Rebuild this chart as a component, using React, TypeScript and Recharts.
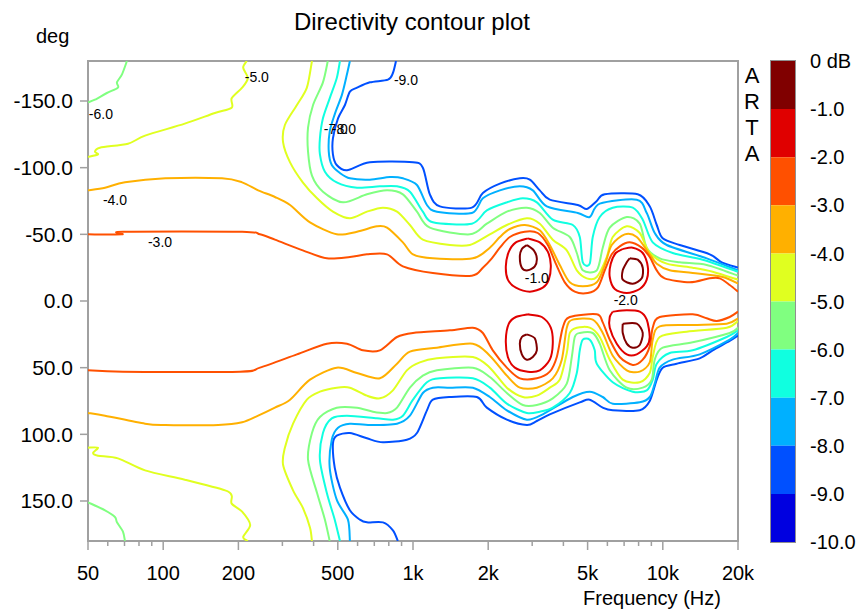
import React from "react";
import { LineChart, Line, XAxis, YAxis, ReferenceArea, ReferenceDot, BarChart, Bar } from "recharts";

type Pt = [number, number]; // [frequency Hz, angle deg]

// colour bar bands, 0..-1 dB first
const BAND_COLORS = ["#800000", "#e00000", "#ff5000", "#ffb000", "#e0ff20", "#80ff80", "#10ffe0", "#00b0ff", "#0050ff", "#0000e0"];
const DB_TICKS = [0, -1, -2, -3, -4, -5, -6, -7, -8, -9, -10];

const FREQ_TICKS = [50, 60, 70, 80, 90, 100, 200, 300, 400, 500, 600, 700, 800, 900, 1000, 2000, 3000, 4000, 5000, 6000, 7000, 8000, 9000, 10000, 20000];
const FREQ_LABELS = [50, 100, 200, 500, 1000, 2000, 5000, 10000, 20000];
const DEG_TICKS = [-150, -100, -50, 0, 50, 100, 150];

// contour lines, upper half (negative angles)
const TOP_9: Pt[] = [[855,-180],[831,-171],[794,-166],[672,-164],[597,-160],[559,-157],[534,-147],[501,-137],[478,-122],[478,-110],[495,-102],[544,-98],[672,-104],[1000,-104],[1095,-100],[1168,-80],[1281,-71],[1720,-70],[1904,-81],[2227,-88],[2677,-92],[2935,-91],[3218,-83],[3528,-76],[4567,-72],[4963,-69],[5441,-75],[5856,-80],[7937,-80],[8865,-71],[9457,-57],[9993,-47],[11687,-42],[15408,-35],[17211,-29],[20000,-25]];
const TOP_8: Pt[] = [[559,-180],[544,-170],[520,-155],[486,-140],[464,-127],[460,-112],[473,-102],[510,-96],[559,-92],[672,-91],[809,-93],[911,-92],[1037,-87],[1137,-72],[1246,-67],[1720,-66],[1904,-77],[2227,-83],[2677,-86],[3017,-83],[3433,-71],[4567,-66],[5100,-63],[5592,-73],[7865,-76],[8624,-66],[9283,-51],[10369,-42],[14990,-32],[20000,-23]];
const TOP_7: Pt[] = [[510,-180],[495,-167],[464,-152],[436,-137],[424,-122],[424,-110],[444,-97],[495,-89],[597,-85],[737,-86],[863,-86],[972,-82],[1095,-67],[1201,-59],[1720,-58],[1975,-68],[2375,-74],[2752,-77],[3131,-74],[3627,-61],[4362,-57],[4652,-48],[4783,-29],[5100,-28],[5243,-48],[5592,-63],[6304,-70],[7580,-70],[8312,-61],[9114,-44],[10958,-36],[14446,-31],[20000,-22]];
const TOP_6: Pt[] = [[456,-180],[436,-164],[398,-147],[380,-130],[380,-112],[394,-94],[436,-82],[525,-74],[654,-80],[787,-83],[911,-80],[1037,-67],[1168,-55],[1689,-50],[1975,-58],[2375,-67],[2856,-70],[3218,-66],[3627,-55],[4242,-48],[4526,-36],[4783,-23],[5441,-23],[5749,-40],[6132,-55],[7173,-63],[8085,-58],[8624,-40],[9720,-32],[11687,-29],[14990,-27],[20000,-19]];
const TOP_6_CORNER: Pt[] = [[71.6,-180],[68.4,-170],[65.3,-164],[65.9,-160],[59.5,-156],[53.3,-151],[50,-149]];
const TOP_5: Pt[] = [[394,-180],[376,-160],[343,-147],[307,-132],[302,-119],[322,-104],[362,-89],[413,-77],[478,-67],[559,-62],[654,-67],[758,-70],[863,-67],[972,-57],[1095,-46],[1405,-42],[1689,-42],[2030,-50],[2375,-57],[2856,-62],[3218,-58],[3627,-46],[4127,-38],[4526,-23],[4963,-17],[5441,-18],[5965,-33],[6304,-48],[7173,-56],[8085,-51],[8865,-36],[10369,-28],[13175,-25],[15841,-22],[20000,-16]];
const TOP_5_CORNER: Pt[] = [[50,-108],[54.8,-110],[53.3,-112],[55.8,-115],[72.3,-118],[84.6,-124],[122,-133],[161,-141],[188,-145],[188,-152],[207,-160],[218,-167],[209,-175],[216,-180]];
const TOP_4: Pt[] = [[50,-83],[58.5,-85],[70.3,-89],[102,-92],[172,-92],[207,-89],[240,-83],[280,-78],[322,-72],[387,-59],[495,-50],[597,-52],[717,-56],[787,-55],[911,-44],[1000,-35],[1201,-32],[1736,-32],[2030,-40],[2227,-48],[2442,-54],[2803,-57],[3218,-53],[3528,-42],[3869,-27],[4242,-14],[4783,-11],[5441,-14],[5856,-27],[6246,-42],[7041,-50],[7865,-48],[8865,-35],[9457,-28],[10659,-23],[13175,-21],[17370,-18],[20000,-13]];
const TOP_3: Pt[] = [[50,-50],[68.4,-50],[69,-52],[207,-52],[244,-50],[280,-46],[362,-38],[452,-32],[559,-33],[654,-35],[787,-35],[911,-26],[1201,-21],[1720,-19],[1904,-25],[2068,-32],[2227,-40],[2442,-48],[2803,-52],[3159,-51],[3464,-42],[3729,-28],[4051,-14],[4443,-7],[5007,-6],[5490,-10],[5856,-23],[6246,-35],[6724,-41],[7373,-44],[8235,-40],[8865,-33],[9457,-23],[10179,-17],[12815,-14],[15408,-17],[16896,-17],[18526,-12],[20000,-7]];
const TOP_2A: Pt[] = [[2881,-47],[3218,-44],[3464,-37],[3561,-27],[3496,-16],[3308,-10],[2935,-7],[2581,-10],[2397,-16],[2353,-26],[2419,-37],[2581,-44],[2881,-47]];
const TOP_1A: Pt[] = [[2856,-42],[3045,-38],[3131,-32],[3073,-26],[2881,-23],[2727,-25],[2677,-33],[2727,-39],[2856,-42]];
const TOP_2B: Pt[] = [[6913,-39],[7580,-40],[8312,-36],[8703,-26],[8624,-16],[8085,-9],[7173,-6],[6421,-9],[6132,-18],[6189,-28],[6481,-36],[6913,-39]];
const TOP_1B: Pt[] = [[7373,-32],[7937,-31],[8312,-25],[8235,-17],[7580,-13],[6913,-16],[6913,-23],[7173,-29],[7373,-32]];

// lower half (positive angles)
const BOT_9: Pt[] = [[870,180],[831,172],[758,166],[654,166],[613,164],[559,157],[510,140],[486,125],[478,107],[495,101],[559,99],[654,103],[758,106],[945,104],[1037,99],[1137,82],[1201,74],[1405,72],[1802,72],[1975,80],[2375,89],[2856,93],[3131,90],[3528,85],[4652,76],[5100,74],[5749,80],[6304,82],[8085,82],[8865,75],[9457,59],[9993,50],[11370,47],[14051,43],[15841,37],[18526,30],[20000,26]];
const BOT_8: Pt[] = [[559,180],[549,164],[495,149],[464,125],[473,104],[501,95],[559,92],[672,93],[863,92],[972,86],[1095,69],[1201,65],[1405,65],[1736,65],[2030,72],[2375,82],[2856,89],[3308,85],[4362,72],[5100,68],[5749,72],[6304,77],[8085,76],[8865,72],[9283,62],[9720,50],[10958,44],[14051,40],[18526,29],[20000,24]];
const BOT_7: Pt[] = [[510,180],[486,164],[452,144],[424,119],[436,99],[473,88],[544,86],[717,88],[831,89],[911,86],[1000,74],[1137,61],[1281,58],[1736,58],[2030,65],[2375,77],[2856,84],[3218,83],[3627,80],[4242,69],[4526,54],[4652,37],[4783,29],[5100,29],[5341,37],[5441,47],[6304,61],[7580,68],[8624,67],[9114,59],[9457,47],[10659,39],[13175,37],[18023,27],[20000,22]];
const BOT_6: Pt[] = [[464,180],[444,164],[413,144],[380,119],[394,99],[424,87],[495,80],[597,80],[691,83],[787,84],[863,80],[972,65],[1095,56],[1246,52],[1736,50],[2030,57],[2375,69],[2752,78],[3131,78],[3627,73],[4127,62],[4322,42],[4443,27],[4652,24],[5243,24],[5592,32],[6132,52],[7173,65],[8312,65],[9030,59],[9283,44],[9993,35],[13175,31],[18526,24],[20000,20]];
const BOT_6_CORNER: Pt[] = [[50,151],[58.5,157],[64.1,162],[65.3,166],[69,173],[70.3,180]];
const BOT_5: Pt[] = [[394,180],[387,170],[362,155],[331,142],[302,123],[307,110],[331,92],[376,74],[424,68],[495,65],[559,65],[654,71],[737,73],[831,67],[945,52],[1065,46],[1246,43],[1736,42],[2030,50],[2375,65],[2752,72],[3131,71],[3528,65],[3869,59],[4127,39],[4242,24],[4526,20],[5100,20],[5592,27],[6132,44],[6913,59],[8085,61],[8865,54],[9114,42],[9720,27],[12468,23],[18023,20],[20000,15]];
const BOT_5_CORNER: Pt[] = [[50,110],[54.8,110],[52.4,114],[54.8,116],[65.9,118],[84.6,127],[122,134],[177,142],[188,146],[188,152],[207,158],[223,168],[209,177],[218,180]];
const BOT_4: Pt[] = [[50,84],[58.5,86],[84.6,92],[102,93],[166,93],[207,91],[240,86],[280,80],[322,74],[387,59],[495,50],[597,54],[737,58],[863,47],[972,38],[1246,35],[1736,32],[2030,41],[2375,56],[2677,65],[3131,65],[3627,58],[3941,44],[4127,20],[4362,14],[5243,14],[5749,24],[6304,41],[7173,52],[8085,53],[8865,46],[9114,29],[9720,19],[13175,18],[18023,17],[20000,13]];
const BOT_3: Pt[] = [[50,52],[69,53],[203,53],[244,50],[343,40],[452,32],[544,32],[630,37],[737,37],[863,27],[1000,24],[1405,22],[1736,20],[1904,24],[2087,37],[2375,50],[2677,58],[3131,58],[3528,53],[3764,42],[3977,20],[4242,12],[5441,10],[5749,16],[6132,29],[6724,42],[7580,48],[8312,44],[8865,34],[9114,20],[9720,12],[13175,10],[14990,13],[16437,15],[18526,12],[20000,8]];
const BOT_2A: Pt[] = [[2881,10],[3278,12],[3561,20],[3627,32],[3528,44],[3218,52],[2881,53],[2557,50],[2397,42],[2353,29],[2419,17],[2581,12],[2881,10]];
const BOT_1A: Pt[] = [[2856,25],[3073,28],[3131,37],[3017,42],[2856,44],[2727,40],[2677,32],[2727,27],[2856,25]];
const BOT_2B: Pt[] = [[6304,8],[7173,7],[8085,8],[8624,14],[8865,27],[8624,34],[7865,40],[7173,40],[6541,32],[6132,20],[6132,12],[6304,8]];
const BOT_1B: Pt[] = [[6913,17],[7865,17],[8312,24],[8085,33],[7580,35],[7173,32],[6913,24],[6913,17]];

// in-plot level labels: [text, frequency, angle]
const LEVEL_LABELS: [string, number, number][] = [
  ["-5.0", 237, -168], ["-6.0", 56.3, -140], ["-4.0", 64.1, -76], ["-3.0", 97.1, -44],
  ["-7.0", 491, -129], ["-8.0", 529, -129], ["-9.0", 937, -166], ["-1.0", 3131, -17], ["-2.0", 7106, -1],
];

const CONTOURS: { level: number; pts: Pt[] }[] = [
  { level: -9, pts: TOP_9 }, { level: -9, pts: BOT_9 },
  { level: -8, pts: TOP_8 }, { level: -8, pts: BOT_8 },
  { level: -7, pts: TOP_7 }, { level: -7, pts: BOT_7 },
  { level: -6, pts: TOP_6 }, { level: -6, pts: BOT_6 },
  { level: -6, pts: TOP_6_CORNER }, { level: -6, pts: BOT_6_CORNER },
  { level: -5, pts: TOP_5 }, { level: -5, pts: BOT_5 },
  { level: -5, pts: TOP_5_CORNER }, { level: -5, pts: BOT_5_CORNER },
  { level: -4, pts: TOP_4 }, { level: -4, pts: BOT_4 },
  { level: -3, pts: TOP_3 }, { level: -3, pts: BOT_3 },
  { level: -2, pts: TOP_2A }, { level: -2, pts: TOP_2B },
  { level: -2, pts: BOT_2A }, { level: -2, pts: BOT_2B },
  { level: -1, pts: TOP_1A }, { level: -1, pts: TOP_1B },
  { level: -1, pts: BOT_1A }, { level: -1, pts: BOT_1B },
];

const FONT = '"Liberation Sans", Arial, sans-serif';
const AXIS_GRAY = "#a0a0a0";

const lineColor = (level: number) => BAND_COLORS[-level - 1];
const fmtFreq = (v: number) => (v >= 1000 ? `${v / 1000}k` : `${v}`);

// catmull-rom style curve so the contours bend softly through the read points
const softCurve = (context: any) => {
  let pts: number[][] = [];
  return {
    areaStart() {},
    areaEnd() {},
    lineStart() {
      pts = [];
    },
    point(x: number, y: number) {
      pts.push([+x, +y]);
    },
    lineEnd() {
      if (!pts.length) return;
      context.moveTo(pts[0][0], pts[0][1]);
      const k = 1 / 7;
      for (let i = 0; i < pts.length - 1; i++) {
        const p0 = pts[i - 1] || pts[i];
        const p1 = pts[i];
        const p2 = pts[i + 1];
        const p3 = pts[i + 2] || p2;
        context.bezierCurveTo(
          p1[0] + (p2[0] - p0[0]) * k, p1[1] + (p2[1] - p0[1]) * k,
          p2[0] - (p3[0] - p1[0]) * k, p2[1] - (p3[1] - p1[1]) * k,
          p2[0], p2[1]
        );
      }
    },
  };
};

const FreqTick = (props: any) => {
  const { x, y, payload } = props;
  const major = FREQ_LABELS.includes(payload.value);
  return (
    <g>
      <line x1={x} x2={x} y1={y} y2={y + (major ? 9 : 5)} stroke={AXIS_GRAY} strokeWidth={1.5} />
      {major && (
        <text x={x} y={y + 39} textAnchor="middle" fontSize={20} fill="#000">
          {fmtFreq(payload.value)}
        </text>
      )}
    </g>
  );
};

const barRow = [Object.fromEntries([["k", "dB"], ...BAND_COLORS.map((_, i) => [`b${i}`, -1])])];

export default function App() {
  return (
    <div style={{ position: "absolute", left: 0, top: 0, width: 863, height: 610, background: "#fff", fontFamily: FONT, overflow: "hidden" }}>
      <div style={{ position: "absolute", left: 0, top: 0 }}>
        <LineChart width={863} height={610} margin={{ top: 61, right: 125, bottom: 29, left: 8 }}>
          <XAxis
            dataKey="f"
            type="number"
            scale="log"
            domain={[50, 20000]}
            ticks={FREQ_TICKS}
            interval={0}
            tick={<FreqTick />}
            tickSize={0}
            tickMargin={0}
            axisLine={false}
            tickLine={false}
            height={40}
            allowDataOverflow
          />
          <YAxis
            type="number"
            domain={[-180, 180]}
            reversed
            ticks={DEG_TICKS}
            tickFormatter={(v: number) => v.toFixed(1)}
            tick={{ fontSize: 21, fill: "#000" }}
            tickLine={{ stroke: AXIS_GRAY, strokeWidth: 1.5 }}
            tickSize={8}
            tickMargin={7}
            axisLine={false}
            width={80}
            allowDataOverflow
          />
          <ReferenceArea x1={50} x2={20000} y1={-180} y2={180} fill="none" fillOpacity={0} stroke={AXIS_GRAY} strokeWidth={2} ifOverflow="visible" />
          {CONTOURS.map((c, i) => (
            <Line
              key={i}
              data={c.pts.map(([f, d]) => ({ f, d }))}
              dataKey="d"
              type={softCurve as any}
              stroke={lineColor(c.level)}
              strokeWidth={2}
              dot={false}
              activeDot={false}
              isAnimationActive={false}
            />
          ))}
          {LEVEL_LABELS.map(([t, f, d]) => (
            <ReferenceDot
              key={t}
              x={f}
              y={d}
              r={0}
              fill="none"
              stroke="none"
              ifOverflow="visible"
              label={{ value: t, position: "center", fontSize: 14, fill: "#000" }}
            />
          ))}
        </LineChart>
      </div>

      {/* colour bar */}
      <div style={{ position: "absolute", left: 771, top: 0 }}>
        <BarChart width={92} height={610} data={barRow} margin={{ top: 61, right: 0, bottom: 68, left: 0 }} barCategoryGap={0}>
          <XAxis dataKey="k" hide />
          <YAxis
            orientation="right"
            type="number"
            domain={[-10, 0]}
            ticks={DB_TICKS}
            interval={0}
            tickFormatter={(v: number) => (v === 0 ? "0 dB" : v.toFixed(1))}
            tick={{ fontSize: 20, fill: "#000" }}
            tickLine={false}
            axisLine={false}
            tickSize={0}
            tickMargin={15}
            width={68}
          />
          {BAND_COLORS.map((c, i) => (
            <Bar key={c} dataKey={`b${i}`} stackId="bar" fill={c} isAnimationActive={false} />
          ))}
        </BarChart>
      </div>
      <div style={{ position: "absolute", left: 770, top: 60, width: 26, height: 483, border: "1.5px solid #909090", boxSizing: "border-box", pointerEvents: "none" }} />

      <div style={{ position: "absolute", left: 0, top: 8, width: 824, textAlign: "center", fontSize: 24, lineHeight: "28px" }}>Directivity contour plot</div>
      <div style={{ position: "absolute", left: 36, top: 24, fontSize: 20, lineHeight: "24px" }}>deg</div>
      <div style={{ position: "absolute", left: 552, top: 586, width: 200, textAlign: "center", fontSize: 20, lineHeight: "24px" }}>Frequency (Hz)</div>
      {["A", "R", "T", "A"].map((ch, i) => (
        <div key={i} style={{ position: "absolute", left: 742, top: 63 + i * 26, width: 20, textAlign: "center", fontSize: 22, lineHeight: "26px" }}>
          {ch}
        </div>
      ))}
    </div>
  );
}
